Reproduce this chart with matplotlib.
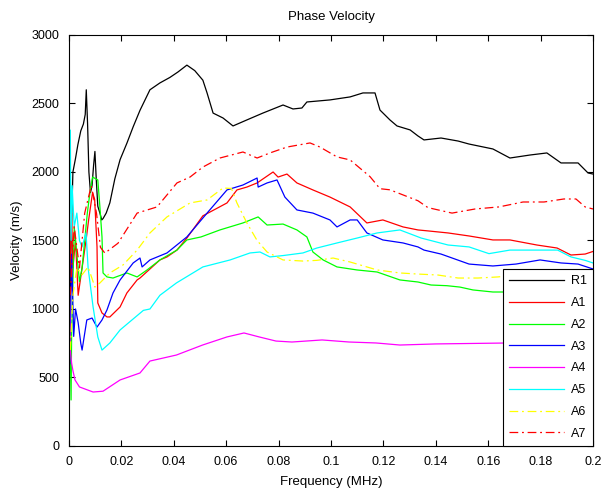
import numpy as np
import matplotlib
matplotlib.use("Agg")
import matplotlib.pyplot as plt

plt.rcParams['font.family'] = ['Liberation Sans', 'DejaVu Sans']

# --------------------------------------------
# DATA
# --------------------------------------------
r1_f = [0.0003, 0.0008, 0.0015, 0.0025, 0.0034, 0.0045, 0.0055, 0.0062, 0.0066, 0.0071,
        0.0076, 0.0082, 0.0088, 0.0094, 0.0099, 0.0104, 0.011, 0.0118, 0.0125, 0.013,
        0.0142, 0.0156, 0.0175, 0.0195, 0.0221, 0.0245, 0.0271, 0.0309, 0.0347, 0.0385,
        0.0416, 0.045, 0.048, 0.0511, 0.0527, 0.055, 0.0588, 0.0626, 0.0679, 0.074,
        0.0817, 0.0855, 0.0889, 0.0908, 0.0996, 0.1073, 0.1122, 0.1168, 0.1187, 0.1225,
        0.1252, 0.1302, 0.1332, 0.1355, 0.142, 0.1485, 0.1527, 0.1618, 0.1683, 0.176,
        0.1824, 0.1878, 0.1943, 0.1981, 0.2]
r1_v = [850, 1500, 2000, 2100, 2200, 2300, 2350, 2420, 2600, 2350,
        2000, 1850, 1900, 2050, 2150, 1950, 1750, 1700, 1650, 1660,
        1700, 1775, 1950, 2090, 2210, 2330, 2450, 2600, 2650, 2690,
        2730, 2780, 2740, 2670, 2577, 2430, 2394, 2336, 2380, 2430,
        2489, 2460, 2467, 2511, 2526, 2548, 2577, 2577, 2452, 2380,
        2336, 2307, 2263, 2234, 2248, 2226, 2204, 2168, 2102, 2124,
        2139, 2066, 2066, 1993, 1985]

a1_f = [0.0003, 0.001, 0.0015, 0.0025, 0.0035, 0.005, 0.0065, 0.0075, 0.009, 0.0098,
        0.0107, 0.011, 0.0126, 0.0145, 0.0156, 0.0195, 0.0221, 0.026, 0.0271, 0.0347,
        0.0374, 0.0412, 0.045, 0.0511, 0.0603, 0.0641, 0.0679, 0.0718, 0.0779, 0.0798,
        0.0832, 0.087, 0.0931, 0.0996, 0.1073, 0.1137, 0.1198, 0.1275, 0.1332, 0.137,
        0.1447, 0.1527, 0.1618, 0.1683, 0.1786, 0.1863, 0.1916, 0.197, 0.2]
a1_v = [1200, 1700, 1300, 1500, 1100, 1300, 1500, 1650, 1850, 1800,
        1453, 1044, 971, 942, 942, 1015, 1117, 1212, 1226, 1358,
        1380, 1430, 1518, 1680, 1774, 1869, 1890, 1920, 2000, 1963,
        1985, 1920, 1869, 1817, 1745, 1628, 1650, 1599, 1577, 1570,
        1555, 1533, 1504, 1504, 1467, 1445, 1394, 1401, 1420]

a2_f = [0.0003, 0.0008, 0.001, 0.0015, 0.002, 0.003, 0.004, 0.005, 0.006, 0.007,
        0.008, 0.009, 0.011, 0.0118, 0.0126, 0.013, 0.0145, 0.0168, 0.0221, 0.026,
        0.0298, 0.0347, 0.0412, 0.045, 0.0504, 0.0576, 0.0664, 0.0722, 0.0756, 0.0817,
        0.087, 0.0908, 0.0931, 0.097, 0.1023, 0.1099, 0.1176, 0.1263, 0.1332, 0.1382,
        0.1443, 0.1492, 0.1542, 0.1618, 0.168, 0.18, 0.2]
a2_v = [1000, 336, 800, 1200, 1600, 1400, 1200, 1300, 1500, 1700,
        1850, 1963, 1942, 1745, 1526, 1263, 1234, 1226, 1263, 1234,
        1285, 1358, 1430, 1504, 1526, 1577, 1628, 1672, 1613, 1620,
        1577, 1526, 1416, 1358, 1307, 1285, 1270, 1212, 1197, 1175,
        1170, 1160, 1139, 1124, 1124, 1100, 1080]

a3_f = [0.0003, 0.001, 0.0018, 0.0025, 0.0035, 0.0045, 0.005, 0.0068, 0.0088, 0.0107,
        0.0126, 0.0145, 0.0168, 0.0195, 0.0245, 0.0271, 0.0279, 0.0309, 0.0374, 0.045,
        0.0527, 0.0603, 0.0664, 0.0718, 0.0722, 0.0756, 0.0794, 0.0824, 0.087, 0.0931,
        0.0996, 0.1023, 0.1073, 0.11, 0.1137, 0.1198, 0.1275, 0.1332, 0.1355, 0.142,
        0.1527, 0.1618, 0.1706, 0.1798, 0.1878, 0.1943, 0.2]
a3_v = [600, 1400, 800, 1000, 900, 750, 700, 920, 934, 868,
        920, 993, 1117, 1212, 1336, 1372, 1307, 1358, 1409, 1526,
        1700, 1869, 1905, 1956, 1890, 1920, 1942, 1817, 1723, 1700,
        1650, 1599, 1650, 1650, 1555, 1504, 1482, 1453, 1430, 1401,
        1328, 1314, 1328, 1358, 1336, 1328, 1292]

a4_f = [0.0002, 0.0005, 0.001, 0.0015, 0.0023, 0.004, 0.0092, 0.013, 0.0195, 0.0271,
        0.0309, 0.041, 0.051, 0.0603, 0.0668, 0.0726, 0.079, 0.0851, 0.0966, 0.1069,
        0.1172, 0.1263, 0.14, 0.16, 0.18, 0.2]
a4_v = [1100, 700, 606, 550, 482, 431, 394, 400, 482, 533,
        620, 664, 737, 796, 825, 796, 766, 759, 774, 759,
        752, 737, 745, 750, 755, 750]

a5_f = [0.0002, 0.0005, 0.0008, 0.0012, 0.002, 0.003, 0.004, 0.005, 0.0065, 0.0073,
        0.0092, 0.011, 0.0126, 0.0156, 0.0195, 0.0284, 0.0309, 0.0347, 0.041, 0.0511,
        0.0615, 0.0691, 0.0729, 0.0767, 0.0817, 0.0893, 0.0946, 0.1023, 0.11, 0.1176,
        0.1263, 0.1344, 0.1447, 0.1527, 0.1603, 0.1683, 0.1773, 0.1865, 0.1916, 0.197,
        0.2]
a5_v = [1700, 2306, 1500, 1900, 1600, 1700, 1500, 1453, 1555, 1300,
        1015, 796, 700, 752, 847, 990, 1000, 1100, 1190, 1307,
        1358, 1409, 1416, 1380, 1390, 1409, 1445, 1482, 1518, 1555,
        1577, 1518, 1467, 1453, 1404, 1430, 1430, 1430, 1380, 1355,
        1336]

a6_f = [0.0005, 0.0015, 0.003, 0.005, 0.0073, 0.0099, 0.0118, 0.0156, 0.0206, 0.026,
        0.0309, 0.0374, 0.0462, 0.0527, 0.0588, 0.062, 0.0641, 0.0679, 0.0718, 0.0756,
        0.0817, 0.0893, 0.0946, 0.1008, 0.1073, 0.1176, 0.1263, 0.1332, 0.1408, 0.1485,
        0.1561, 0.1637, 0.1702, 0.18, 0.2]
a6_v = [700, 1100, 1300, 1250, 1307, 1160, 1190, 1263, 1321, 1430,
        1555, 1672, 1774, 1796, 1883, 1880, 1774, 1628, 1500, 1416,
        1358, 1350, 1355, 1372, 1343, 1285, 1263, 1255, 1248, 1226,
        1226, 1234, 1248, 1260, 1280]

a7_f = [0.0005, 0.002, 0.004, 0.006, 0.0085, 0.0105, 0.012, 0.0137, 0.0187, 0.026,
        0.0336, 0.0412, 0.0462, 0.0511, 0.0576, 0.0664, 0.0718, 0.0767, 0.0832, 0.092,
        0.0958, 0.1023, 0.1073, 0.1149, 0.1187, 0.1225, 0.1332, 0.137, 0.1462, 0.155,
        0.1641, 0.1733, 0.1813, 0.1889, 0.1935, 0.197, 0.2]
a7_v = [1100, 1600, 1300, 1700, 1900, 1700, 1450, 1408, 1480, 1700,
        1745, 1920, 1963, 2036, 2102, 2146, 2102, 2139, 2182, 2212,
        2182, 2110, 2088, 1966, 1878, 1870, 1790, 1740, 1700, 1730,
        1745, 1781, 1781, 1803, 1803, 1745, 1730]

x_ticks = [0, 0.02, 0.04, 0.06, 0.08, 0.1, 0.12, 0.14, 0.16, 0.18, 0.2]
x_tick_labels = ['0', '0.02', '0.04', '0.06', '0.08', '0.1', '0.12', '0.14', '0.16', '0.18', '0.2']
y_ticks = [0, 500, 1000, 1500, 2000, 2500, 3000]

# --------------------------------------------
# PLOT
# --------------------------------------------
fig = plt.figure(figsize=(6.03, 4.9), dpi=100)
ax = fig.add_axes([0.1144, 0.0898, 0.869, 0.8388])

dashdot = (0, (7, 3, 1.5, 3))
lw = 0.9
ax.plot(r1_f, r1_v, color='k', lw=lw, label='R1')
ax.plot(a1_f, a1_v, color=(1, 0, 0), lw=lw, label='A1')
ax.plot(a2_f, a2_v, color=(0, 1, 0), lw=lw, label='A2')
ax.plot(a3_f, a3_v, color=(0, 0, 1), lw=lw, label='A3')
ax.plot(a4_f, a4_v, color=(1, 0, 1), lw=lw, label='A4')
ax.plot(a5_f, a5_v, color=(0, 1, 1), lw=lw, label='A5')
ax.plot(a6_f, a6_v, color=(1, 1, 0), lw=lw, ls=dashdot, label='A6')
ax.plot(a7_f, a7_v, color=(1, 0, 0), lw=lw, ls=dashdot, label='A7')

ax.set_xlim(0, 0.2)
ax.set_ylim(0, 3000)
ax.set_xticks(x_ticks)
ax.set_xticklabels(x_tick_labels)
ax.set_yticks(y_ticks)
ax.tick_params(direction='in', top=True, right=True, length=4, width=0.8,
               labelsize=9, pad=7)
for s in ax.spines.values():
    s.set_linewidth(0.8)

ax.set_title('Phase Velocity', fontsize=9.5, pad=11)
ax.set_xlabel('Frequency (MHz)', fontsize=9.5, labelpad=6)
ax.set_ylabel('Velocity (m/s)', fontsize=9.5, labelpad=6)

leg = ax.legend(loc='lower right', fontsize=9, frameon=True, fancybox=False,
                framealpha=1, edgecolor='k', borderaxespad=0, handlelength=4.4,
                labelspacing=0.78, handletextpad=0.5, borderpad=0.5)
leg.get_frame().set_linewidth(0.8)

fig.savefig('out.png', dpi=100)
